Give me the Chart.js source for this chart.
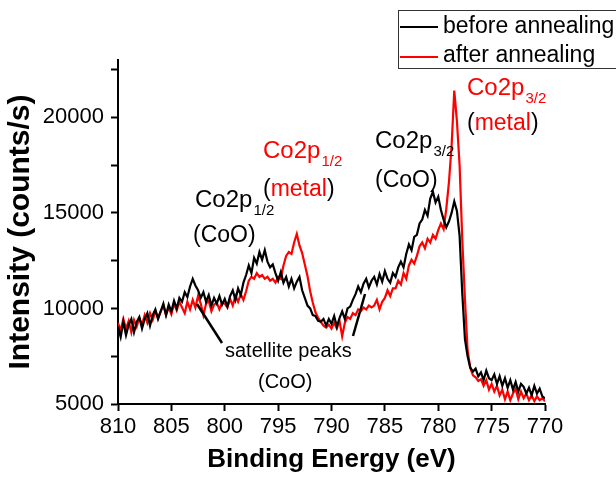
<!DOCTYPE html>
<html>
<head>
<meta charset="utf-8">
<script src="https://cdn.jsdelivr.net/npm/chart.js@4.4.0/dist/chart.umd.min.js"></script>
<style>
  html, body { margin: 0; padding: 0; background: #fff; }
  #wrap { width: 616px; height: 479px; }
</style>
</head>
<body>
<div id="wrap"><canvas id="xpsChart"></canvas></div>
<script>
// XPS Co2p spectrum, binding energy runs 810 -> 770 eV in 0.25 eV steps
const energyStart = 810;
const energyStep = 0.25;

// before annealing (counts/s)
const beforeAnnealing = [
  9050, 8500, 9300, 8600, 9150, 9450, 8750, 9300,
  9550, 8950, 9450, 9750, 9100, 9650, 9950, 9450,
  9850, 10250, 9650, 10200, 9850, 10400, 10000, 10550,
  10350, 10850, 10600, 11150, 11550, 11200, 10950, 10550,
  10850, 10350, 10700, 10150, 10550, 10250, 10650, 10200,
  10500, 10100, 10650, 10950, 10450, 11050, 10700, 11350,
  11750, 12250, 11850, 12650, 12350, 12950, 12550, 13050,
  12450, 12150, 12300, 11850, 11450, 11900, 11350, 11650,
  11150, 11550, 11050, 11400, 11650, 10950, 10550, 10150,
  10000, 9650, 9600, 9350, 9300, 9450, 9100, 9450,
  9200, 9600, 9050, 9500, 9850, 9450, 10000, 10100,
  10450, 10750, 11150, 10850, 11300, 11550, 11100, 11450,
  11650, 11250, 11800, 11400, 11950, 11550, 11350, 11850,
  11650, 12150, 12450, 12150, 12850, 13350, 13050, 13750,
  13850, 14450, 14650, 15150, 14850, 15750, 16100, 15550,
  15850, 15150, 14650, 14250, 14550, 15000, 15600, 15100,
  13800, 10800, 8400, 7500, 6900, 6700, 6850, 6450,
  6650, 6250, 6750, 6350, 6250, 6550, 6050, 6450,
  5950, 6350, 5850, 6250, 5750, 6150, 5650, 6050,
  5900, 5550, 5850, 5450, 5950, 5550, 5800, 5400,
  5300
];

// after annealing (counts/s)
const afterAnnealing = [
  9250, 8850, 9450, 8950, 9350, 8750, 9400, 9050,
  9500, 9150, 9650, 9250, 9750, 9400, 9850, 9500,
  9850, 10150, 9650, 10050, 9700, 10250, 9900, 10350,
  10050, 9750, 10350, 9950, 10450, 10050, 10650, 10250,
  9650, 10250, 10400, 9850, 10200, 10300, 9950, 10300,
  10250, 10050, 10500, 10150, 10650, 10350, 10750, 10450,
  10900, 11450, 11650, 11550, 11850, 11650, 11750, 11550,
  11650, 11450, 11550, 11350, 11650, 11550, 12250, 12750,
  12950, 12850, 13450, 13900, 13300, 12900, 12300, 11700,
  10900, 10300, 9800, 9500, 9300, 9100, 9000, 9150,
  8950, 9250, 8950, 9350, 8550, 9250, 9550, 9450,
  9750, 9650, 9950, 9850, 10050, 9950, 10150, 10050,
  10150, 10450, 9950, 10350, 10550, 10950, 10650, 11050,
  11050, 11450, 11250, 11850, 11550, 12250, 12550, 12350,
  12750, 13250, 13450, 13150, 13650, 13450, 13850, 13650,
  14100, 14450, 14150, 15200, 16600, 18500, 21400, 19800,
  17500, 13600, 10500, 7800, 6900, 6500, 6400, 6200,
  6300, 5950, 6250, 5750, 6050, 5650, 5950, 5450,
  5750, 5250, 5650, 5200, 5550, 5800, 5250, 5650,
  5300, 5550, 5200, 5450, 5150, 5400, 5200, 5300,
  5150
];

const xTicks = [810, 805, 800, 795, 790, 785, 780, 775, 770];
const yTicks = [5000, 7500, 10000, 12500, 15000, 17500, 20000, 22500];
const yLabels = [5000, 10000, 15000, 20000];

const RED = "#f00";
const FONT = "'Liberation Sans', Arial, sans-serif";

function toPoints(values) {
  return values.map((v, i) => ({ x: energyStart - i * energyStep, y: v }));
}

// legend + peak labels drawn on top of the plot
const labelPlugin = {
  id: "labels",
  afterDraw(chart) {
    const ctx = chart.ctx;
    ctx.save();
    ctx.textBaseline = "alphabetic";
    ctx.textAlign = "left";

    // legend box (runs off the right edge like the original)
    ctx.strokeStyle = "#333";
    ctx.lineWidth = 1;
    ctx.strokeRect(398.5, 10.5, 240, 58);
    ctx.lineWidth = 2;
    ctx.strokeStyle = "#000";
    ctx.beginPath(); ctx.moveTo(400, 27); ctx.lineTo(438, 27); ctx.stroke();
    ctx.strokeStyle = RED;
    ctx.beginPath(); ctx.moveTo(400, 57); ctx.lineTo(438, 57); ctx.stroke();
    ctx.fillStyle = "#000";
    ctx.font = "23px " + FONT;
    ctx.fillText("before annealing", 443, 33);
    ctx.fillText("after annealing", 443, 62);

    function co2p(x, y, sub, color) {
      ctx.fillStyle = color;
      ctx.font = "24px " + FONT;
      ctx.fillText("Co2p", x, y);
      const w = ctx.measureText("Co2p").width;
      ctx.font = "15px " + FONT;
      ctx.fillText(sub, x + w + 1, y + 8);
    }
    function metal(x, y) {
      ctx.font = "23px " + FONT;
      ctx.fillStyle = "#000";
      ctx.fillText("(", x, y);
      let w = ctx.measureText("(").width;
      ctx.fillStyle = RED;
      ctx.fillText("metal", x + w, y);
      w += ctx.measureText("metal").width;
      ctx.fillStyle = "#000";
      ctx.fillText(")", x + w, y);
    }

    co2p(195, 207, "1/2", "#000");
    ctx.fillStyle = "#000";
    ctx.font = "23px " + FONT;
    ctx.fillText("(CoO)", 193, 242);

    co2p(263, 158, "1/2", RED);
    metal(263, 196);

    co2p(375, 148, "3/2", "#000");
    ctx.fillStyle = "#000";
    ctx.font = "23px " + FONT;
    ctx.fillText("(CoO)", 375, 187);

    co2p(467, 95, "3/2", RED);
    metal(467, 130);

    ctx.fillStyle = "#000";
    ctx.font = "20px " + FONT;
    ctx.fillText("satellite peaks", 225, 357);
    ctx.fillText("(CoO)", 258, 388);

    // pointer lines to the satellite peaks
    ctx.strokeStyle = "#000";
    ctx.lineWidth = 2.5;
    ctx.beginPath(); ctx.moveTo(197, 304); ctx.lineTo(222, 343); ctx.stroke();
    ctx.beginPath(); ctx.moveTo(353, 336); ctx.lineTo(365, 294); ctx.stroke();
    ctx.restore();
  }
};

Chart.defaults.font.family = FONT;
Chart.defaults.color = "#000";

new Chart(document.getElementById("xpsChart"), {
  type: "line",
  data: {
    datasets: [
      {
        label: "before annealing",
        data: toPoints(beforeAnnealing),
        borderColor: "#000",
        borderWidth: 2.2,
        pointRadius: 0,
        tension: 0,
      },
      {
        label: "after annealing",
        data: toPoints(afterAnnealing),
        borderColor: RED,
        borderWidth: 2.2,
        pointRadius: 0,
        tension: 0,
      },
    ],
  },
  options: {
    responsive: true,
    maintainAspectRatio: false,
    animation: false,
    layout: { padding: { top: 60, right: 71, left: 0, bottom: 0 } },
    scales: {
      x: {
        type: "linear",
        min: 770,
        max: 810,
        reverse: true,
        afterBuildTicks: (s) => { s.ticks = xTicks.map((v) => ({ value: v })); },
        afterFit: (s) => { s.height = 75; },
        ticks: { font: { size: 22 }, color: "#000", padding: 3, maxRotation: 0 },
        grid: { drawOnChartArea: false, tickLength: 7, tickColor: "#000", tickWidth: 2 },
        border: { color: "#000", width: 2 },
        title: {
          display: true,
          text: "Binding Energy (eV)",
          font: { size: 26, weight: "bold" },
          padding: { top: 0, bottom: 4 },
        },
      },
      y: {
        min: 5000,
        max: 23000,
        afterBuildTicks: (s) => { s.ticks = yTicks.map((v) => ({ value: v })); },
        afterFit: (s) => { s.width = 118; },
        ticks: {
          font: { size: 22 },
          color: "#000",
          padding: 7,
          callback: (v) => (yLabels.includes(v) ? String(v) : ""),
        },
        grid: { drawOnChartArea: false, tickLength: 7, tickColor: "#000", tickWidth: 2 },
        border: { color: "#000", width: 2 },
        title: {
          display: true,
          text: "Intensity (counts/s)",
          font: { size: 30, weight: "bold" },
          padding: { top: 3, bottom: 0 },
        },
      },
    },
    plugins: {
      legend: { display: false },
      tooltip: { enabled: false },
    },
  },
  plugins: [labelPlugin],
});
</script>
</body>
</html>
